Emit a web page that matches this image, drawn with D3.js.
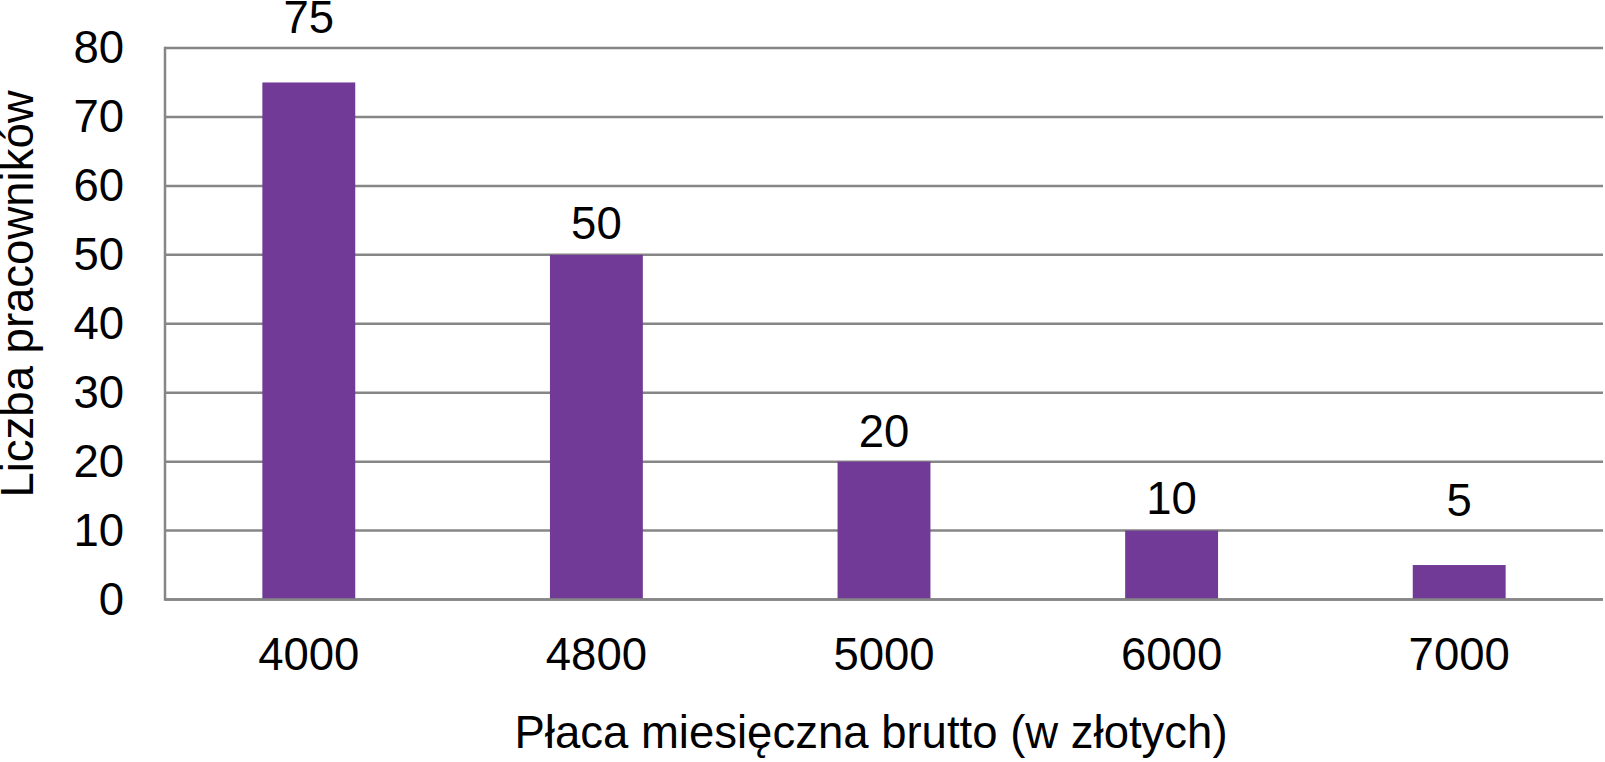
<!DOCTYPE html>
<html>
<head>
<meta charset="utf-8">
<script src="https://cdn.jsdelivr.net/npm/d3@7"></script>
<style>
  html, body { margin: 0; padding: 0; background: #fff; }
  svg { display: block; font-family: "Liberation Sans", Arial, sans-serif; }
</style>
</head>
<body>
<svg id="chart" width="1605" height="762"></svg>
<script>
// ---- data ----
const categories = ["4000", "4800", "5000", "6000", "7000"];
const values = [75, 50, 20, 10, 5];
const yTicks = [0, 10, 20, 30, 40, 50, 60, 70, 80];
const xTitle = "Płaca miesięczna brutto (w złotych)";
const yTitle = "Liczba pracowników";

// ---- layout (pixel offsets of value labels above bars, as in the reference) ----
const labelLift = [49, 16, 15, 17, 49];
const plot = { left: 165, right: 1603, top: 48, bottom: 599.5 };
const gridColor = "#868686";
const barColor = "#713A96";
const fontSize = 45.5;

const svg = d3.select("#chart");

const x = d3.scaleBand()
  .domain(categories)
  .range([plot.left, plot.right])
  .paddingInner(0.677)
  .paddingOuter(0.3385);

const y = d3.scaleLinear()
  .domain([0, 80])
  .range([plot.bottom, plot.top]);

// gridlines
svg.append("g")
  .selectAll("line")
  .data(yTicks)
  .join("line")
  .attr("x1", plot.left)
  .attr("x2", plot.right)
  .attr("y1", d => y(d))
  .attr("y2", d => y(d))
  .attr("stroke", gridColor)
  .attr("stroke-width", 2.5);

// y axis line
svg.append("line")
  .attr("x1", plot.left).attr("x2", plot.left)
  .attr("y1", y(80) - 1.25).attr("y2", y(0) + 1.25)
  .attr("stroke", gridColor)
  .attr("stroke-width", 2.5);

// y axis tick labels
const yAxis = d3.axisLeft(y).tickValues(yTicks).tickSize(0).tickPadding(41);
const gy = svg.append("g").attr("transform", `translate(${plot.left},0)`).call(yAxis);
gy.select(".domain").remove();
gy.selectAll("text")
  .attr("font-size", fontSize)
  .attr("font-family", "Liberation Sans, Arial, sans-serif")
  .attr("fill", "#000");

// bars
svg.append("g")
  .selectAll("rect")
  .data(values)
  .join("rect")
  .attr("x", (d, i) => x(categories[i]))
  .attr("width", x.bandwidth())
  .attr("y", d => y(d))
  .attr("height", d => y(0) - y(d))
  .attr("fill", barColor);

// redraw baseline over bar bottoms
svg.append("line")
  .attr("x1", plot.left).attr("x2", plot.right)
  .attr("y1", y(0)).attr("y2", y(0))
  .attr("stroke", gridColor)
  .attr("stroke-width", 2.5);

// value labels
svg.append("g")
  .selectAll("text")
  .data(values)
  .join("text")
  .attr("x", (d, i) => x(categories[i]) + x.bandwidth() / 2)
  .attr("y", (d, i) => y(d) - labelLift[i])
  .attr("text-anchor", "middle")
  .attr("font-size", fontSize)
  .attr("fill", "#000")
  .text(d => d);

// x axis tick labels
const xAxis = d3.axisBottom(x).tickSize(0).tickPadding(0);
const gx = svg.append("g").attr("transform", `translate(0,${y(0)})`).call(xAxis);
gx.select(".domain").remove();
gx.selectAll("text")
  .attr("font-size", fontSize)
  .attr("font-family", "Liberation Sans, Arial, sans-serif")
  .attr("fill", "#000")
  .attr("dy", null)
  .attr("y", 670 - y(0));

// axis titles
svg.append("text")
  .attr("x", 871)
  .attr("y", 748)
  .attr("text-anchor", "middle")
  .attr("font-size", fontSize)
  .attr("fill", "#000")
  .text(xTitle);

svg.append("text")
  .attr("transform", `translate(33,294) rotate(-90)`)
  .attr("text-anchor", "middle")
  .attr("font-size", fontSize)
  .attr("fill", "#000")
  .text(yTitle);
</script>
</body>
</html>
